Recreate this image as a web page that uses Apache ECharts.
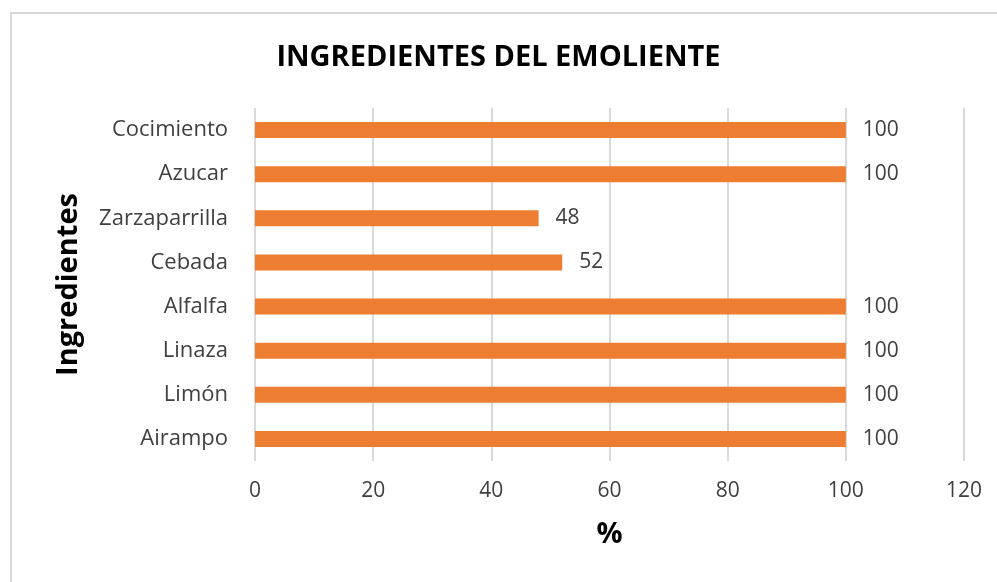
<!DOCTYPE html>
<html>
<head>
<meta charset="utf-8">
<script src="https://cdn.jsdelivr.net/npm/echarts@6/dist/echarts.min.js"></script>
<style>
  html, body { margin: 0; padding: 0; background: #fff; }
  #frame { position: absolute; left: 10px; top: 12px; width: 1000px; height: 600px; border: 2px solid #d9d9d9; box-sizing: border-box; }
  #main { position: absolute; left: 0; top: 0; width: 997px; height: 582px; }
</style>
</head>
<body>
<div id="frame"></div>
<div id="main"></div>
<script>
// datos del grafico
var ingredientes = ['Airampo', 'Limón', 'Linaza', 'Alfalfa', 'Cebada', 'Zarzaparrilla', 'Azucar', 'Cocimiento'];
var porcentajes = [100, 100, 100, 100, 52, 48, 100, 100];
var ticksX = [0, 20, 40, 60, 80, 100, 120];

var fuente = '"Open Sans", "Liberation Sans", sans-serif';
var chart = echarts.init(document.getElementById('main'));

var option = {
  animation: false,
  title: {
    text: 'INGREDIENTES DEL EMOLIENTE',
    left: 'center',
    top: 38,
    textStyle: { fontFamily: fuente, fontSize: 29, fontWeight: 'bold', color: '#000' }
  },
  grid: { left: 255, right: 33, top: 108, bottom: 121 },
  xAxis: {
    type: 'value',
    min: ticksX[0],
    max: ticksX[ticksX.length - 1],
    interval: 20,
    name: '%',
    nameLocation: 'middle',
    nameGap: 59,
    nameTextStyle: { fontFamily: fuente, fontSize: 29, fontWeight: 'bold', color: '#000' },
    axisLine: { show: false },
    axisTick: { show: false },
    axisLabel: { fontFamily: fuente, fontSize: 21, color: '#404040', margin: 20 },
    splitLine: { lineStyle: { color: '#d9d9d9', width: 2 } }
  },
  yAxis: {
    type: 'category',
    data: ingredientes,
    name: 'Ingredientes',
    nameLocation: 'middle',
    nameGap: 172,
    nameRotate: 90,
    nameTextStyle: { fontFamily: fuente, fontSize: 29, fontWeight: 'bold', color: '#000' },
    axisLine: { show: false },
    axisTick: { show: false },
    axisLabel: { fontFamily: fuente, fontSize: 22, color: '#404040', margin: 27 }
  },
  series: [{
    type: 'bar',
    data: porcentajes,
    barWidth: 16,
    itemStyle: { color: '#ed7d31' },
    label: {
      show: true,
      position: 'right',
      distance: 17,
      fontFamily: fuente,
      fontSize: 21,
      color: '#404040'
    }
  }]
};
chart.setOption(option);
</script>
</body>
</html>
